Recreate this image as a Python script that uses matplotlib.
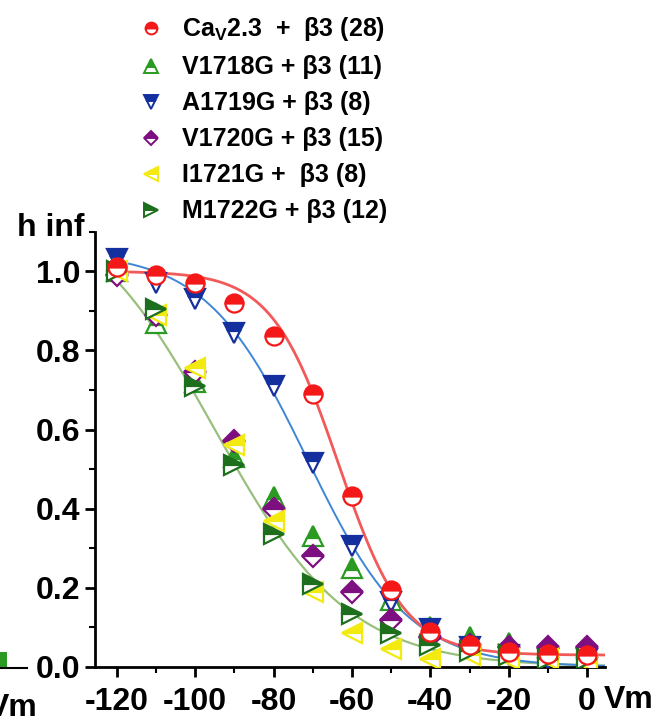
import numpy as np
import matplotlib
matplotlib.use("Agg")
import matplotlib.pyplot as plt
from matplotlib.lines import Line2D
from matplotlib.ticker import MultipleLocator
from matplotlib.patches import Rectangle

plt.rcParams['font.family'] = ['Liberation Sans', 'DejaVu Sans']
plt.rcParams['font.weight'] = 'bold'
plt.rcParams['axes.unicode_minus'] = False
plt.rcParams['mathtext.fontset'] = 'custom'
plt.rcParams['mathtext.rm'] = 'Liberation Sans:bold'
plt.rcParams['mathtext.bf'] = 'Liberation Sans:bold'

# voltage steps (mV)
vm = [-120, -110, -100, -90, -80, -70, -60, -50, -40, -30, -20, -10, 0]

# h inf
cav23 = [1.01, 0.99, 0.97, 0.92, 0.836, 0.69, 0.433, 0.195, 0.088, 0.055, 0.038, 0.033, 0.03]
v1718g = [1.0, 0.87, 0.72, 0.53, 0.43, 0.33, 0.25, 0.17, 0.10, 0.075, 0.06, 0.05, 0.05]
a1719g = [1.03, 0.97, 0.93, 0.845, 0.71, 0.515, 0.305, 0.165, 0.095, 0.05, 0.03, 0.02, 0.02]
v1720g = [0.99, 0.89, 0.745, 0.57, 0.40, 0.28, 0.19, 0.12, 0.075, 0.055, 0.05, 0.05, 0.05]
i1721g = [1.0, 0.89, 0.755, 0.56, 0.37, 0.19, 0.085, 0.045, 0.02, 0.03, 0.02, 0.02, 0.01]
m1722g = [1.0, 0.905, 0.71, 0.51, 0.335, 0.21, 0.135, 0.085, 0.055, 0.04, 0.03, 0.02, 0.02]

labels = ['Ca$_\\mathregular{V}$2.3  +  \u03b23 (28)', 'V1718G + \u03b23 (11)', 'A1719G + \u03b23 (8)',
          'V1720G + \u03b23 (15)', 'I1721G +  \u03b23 (8)', 'M1722G + \u03b23 (12)']

# Boltzmann fits (top, bottom, V1/2, k)
fit_wt = (1.0, 0.03, -63.5, 8.5)
fit_a1719g = (1.05, 0.0, -71.4, 13.0)
fit_v1718g = (1.2, 0.0, -95.0, 17.0)


def boltz(v, p):
    top, bot, vh, k = p
    return bot + (top - bot) / (1 + np.exp((v - vh) / k))


fig = plt.figure(figsize=(6.62, 7.21), dpi=100)
ax = fig.add_axes([0.1435, 0.0749, 0.7705, 0.6037])

vv = np.linspace(-120, 4.6, 300)
ax.plot(vv, boltz(vv, fit_v1718g), color='#98c07c', lw=1.6, zorder=2)
ax.plot(vv, boltz(vv, fit_a1719g), color='#3f86d6', lw=1.4, zorder=2)
ax.plot(vv, boltz(vv, fit_wt), color='#f25a5a', lw=2.0, zorder=2)

# data, marker, colour, marker size, legend marker size
series = [
    (v1718g, '^', '#2a9a22', 14, 9.5),
    (a1719g, 'v', '#14309e', 14, 9.5),
    (v1720g, 'D', '#7d0f80', 11, 7),
    (i1721g, '<', '#f2ea10', 14, 9.5),
    (m1722g, '>', '#1d6e1d', 14, 9.5),
    (cav23, 'o', '#f41818', 13, 8.5),
]
for vals, mk, c, ms, _ in series:
    ax.plot(vm, vals, ls='none', marker=mk, ms=ms, mfc=c, mec=c, mew=1.6,
            fillstyle='top', markerfacecoloralt='white', zorder=3)

ax.set_xlim(-125.6, 4.6)
ax.set_ylim(0, 1.1)
ax.xaxis.set_major_locator(MultipleLocator(20))
ax.xaxis.set_minor_locator(MultipleLocator(10))
ax.yaxis.set_minor_locator(MultipleLocator(0.1))
ax.set_yticks([0, 0.2, 0.4, 0.6, 0.8, 1.0])
ax.set_yticklabels(['0.0', '0.2', '0.4', '0.6', '0.8', '1.0'])
for s in ['top', 'right']:
    ax.spines[s].set_visible(False)
for s in ['left', 'bottom']:
    ax.spines[s].set_linewidth(2)
ax.tick_params(which='major', direction='out', length=7, width=2, labelsize=23)
ax.tick_params(which='minor', direction='out', length=4.3, width=1.5)
ax.tick_params(axis='x', which='major', pad=7.5)
ax.tick_params(axis='y', which='major', pad=3.5)
for t in ax.get_xticklabels() + ax.get_yticklabels():
    t.set_fontweight('bold')

fig.text(17 / 662, 1 - 236 / 721, 'h inf', fontsize=23, fontweight='bold', va='baseline')
fig.text(604 / 662, 1 - 708 / 721, 'Vm', fontsize=23, fontweight='bold', va='baseline')
# fragment of the neighbouring panel at the left edge
fig.text(-12 / 662, 1 - 716 / 721, 'Vm', fontsize=23, fontweight='bold', va='baseline')
fig.add_artist(Rectangle((0, 1 - 668 / 721), 7 / 662, 16 / 721, transform=fig.transFigure,
                         facecolor='#2a9a22', edgecolor='none'))
fig.add_artist(Line2D([0, 27 / 662], [1 - 668 / 721] * 2, transform=fig.transFigure, color='black', lw=1.5))

# legend
handles = [Line2D([], [], ls='none', marker=mk, ms=lms, mfc=c, mec=c, mew=1.4,
                  fillstyle='top', markerfacecoloralt='white') for _, mk, c, _, lms in series]
handles = [handles[5]] + handles[:5]
leg = fig.legend(handles, labels, loc='upper left', bbox_to_anchor=(0.19, 0.996),
                 frameon=False, prop={'size': 18, 'weight': 'bold'},
                 handlelength=1.0, handletextpad=0.75, labelspacing=0.48, borderpad=0.0)

fig.savefig('out.png', dpi=100)
